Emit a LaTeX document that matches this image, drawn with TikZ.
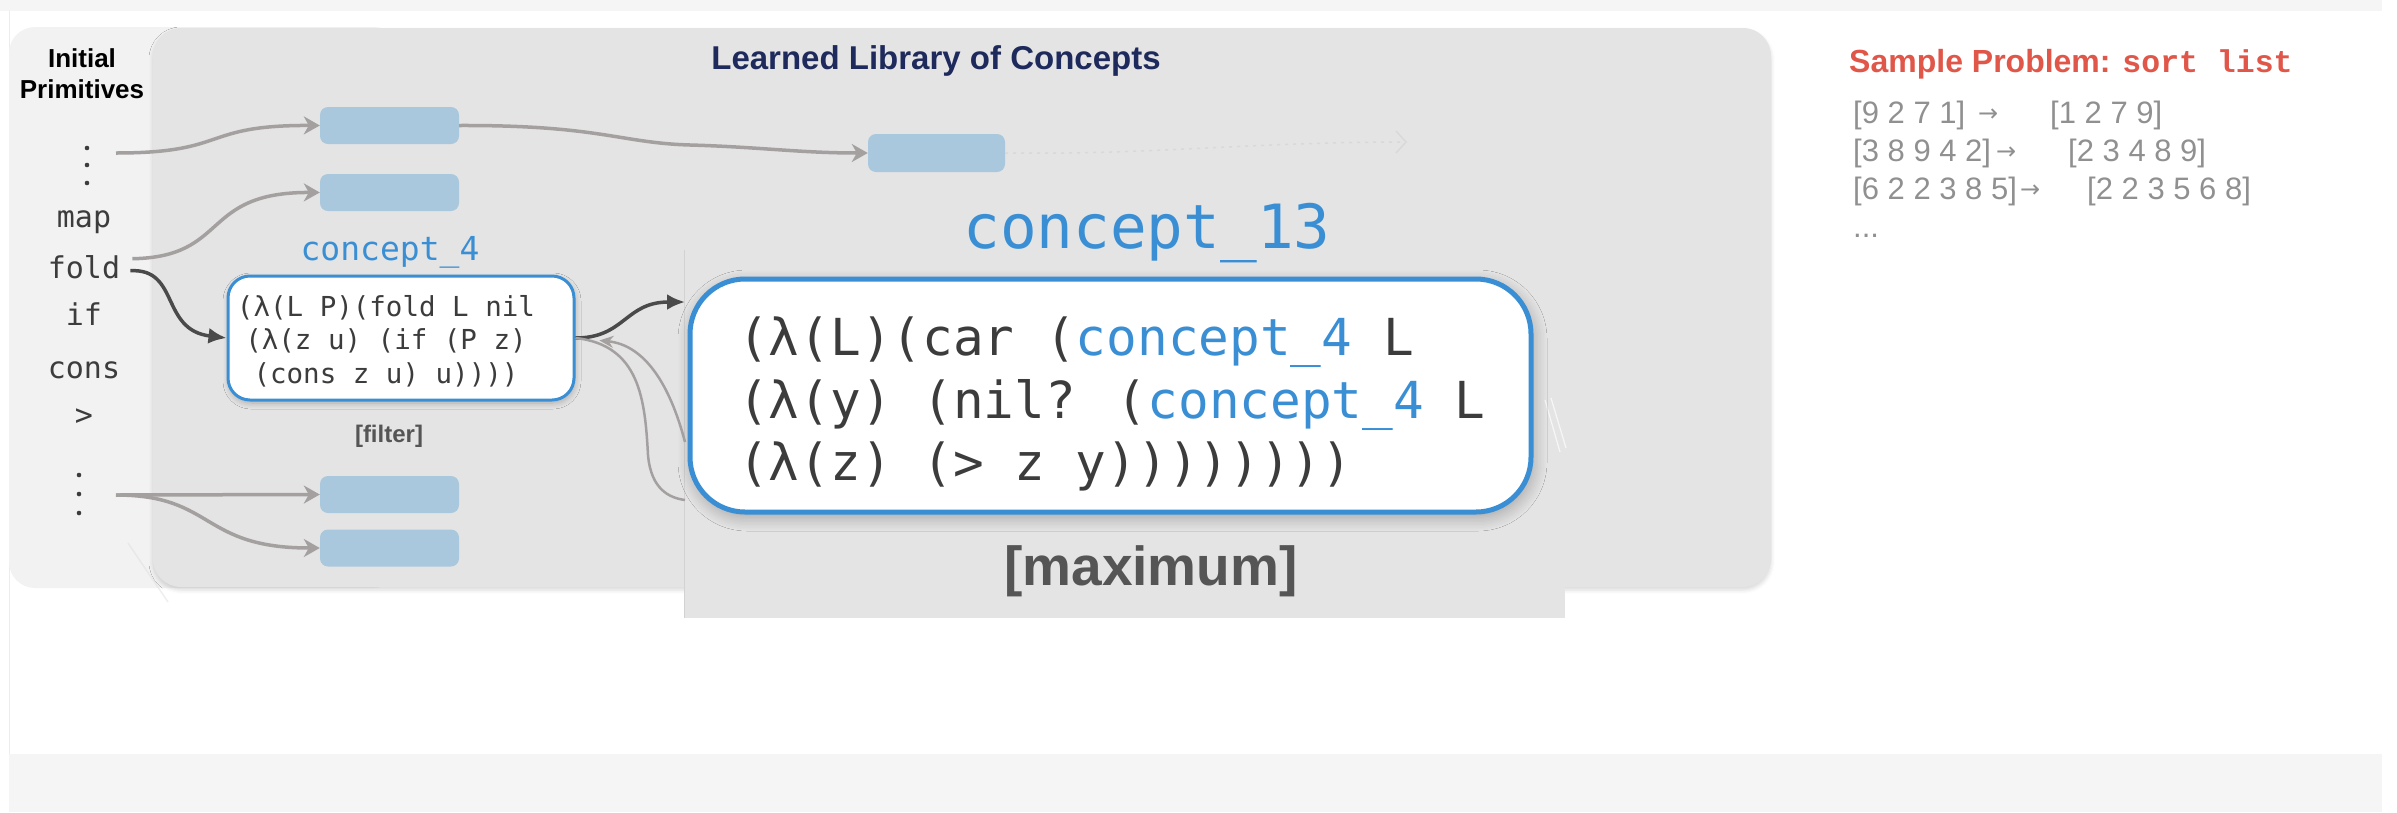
\documentclass[tikz,border=0pt]{standalone}
\usepackage{fontspec}
\usetikzlibrary{arrows.meta,shadows.blur}
\newfontfamily\lsans{Liberation Sans}
\newfontfamily\dsans{DejaVu Sans}
\newfontfamily\dmono{DejaVu Sans Mono}
\newfontfamily\lmono{Liberation Mono}
\newcommand\fsz[1]{\fontsize{#1}{#1}\selectfont}
\definecolor{panelgray}{HTML}{E4E4E4}
\definecolor{leftgray}{HTML}{F2F2F2}
\definecolor{stripgray}{HTML}{F5F5F5}
\definecolor{cardedge}{HTML}{ECECEC}
\definecolor{slot}{HTML}{A9C8DD}
\definecolor{conceptblue}{HTML}{3A8FD4}
\definecolor{linkgray}{HTML}{A5A0A0}
\definecolor{linkdark}{HTML}{4A4A4A}
\definecolor{fadeline}{HTML}{D2D2D2}
\definecolor{fadearrow}{HTML}{D9D9D9}
\definecolor{codegray}{HTML}{3C3C3C}
\definecolor{navy}{HTML}{1E2A5C}
\definecolor{probred}{HTML}{E0574A}
\definecolor{examplegray}{HTML}{909090}
\definecolor{labelgray}{HTML}{555555}
\begin{document}
\begin{tikzpicture}[x=1pt,y=-1pt,
  slotbox/.style={fill=slot, rounded corners=8pt, minimum width=139pt,
    minimum height=37pt, inner sep=0pt},
  prim/.style={font=\dmono\fsz{30}, text=codegray, inner sep=2pt, anchor=base},
  c4code/.style={font=\dmono\fsz{27.5}, text=codegray, anchor=base, inner sep=0pt},
  c13code/.style={font=\dmono\fsz{51}, text=codegray, anchor=base west, inner sep=0pt},
  graylink/.style={draw=linkgray, line width=3.5pt,
    -{Stealth[length=16pt,width=18pt,inset=5pt]}},
  graytrail/.style={draw=linkgray, line width=2.5pt},
  darklink/.style={draw=linkdark, line width=3.5pt, -{Latex[length=18pt,width=16pt]}},
  example/.style={font=\lsans\fsz{31}, text=examplegray, anchor=base west, inner sep=0pt},
  exarrow/.style={font=\dsans\fsz{24}, text=examplegray, anchor=base west, inner sep=0pt},
  sectionlabel/.style={font=\lsans\bfseries, text=labelgray, anchor=base, inner sep=0pt}]
\useasboundingbox (0,0) rectangle (2397,812);

% page strips and card edge
\fill[stripgray] (0,0) rectangle (2382,11);
\fill[stripgray] (9,754) rectangle (2382,812);
\draw[cardedge, line width=1pt] (9.5,11) -- (9.5,754);

% panels
\fill[leftgray, rounded corners=26pt] (9,27) rectangle (400,588);
\fill[panelgray, rounded corners=28pt,
  blur shadow={shadow xshift=0pt, shadow yshift=-3pt, shadow blur radius=4pt,
    shadow opacity=15}] (153,28) rectangle (1771,587);
% magnified window
\fill[panelgray] (685,250) rectangle (1565,618);
\draw[fadeline, line width=1pt] (684.5,250) -- (684.5,618);

% faint leftover strokes
\draw[white!75!gray, line width=1.5pt, opacity=0.5] (128,543) -- (168,602);
\draw[white, line width=1.2pt, opacity=0.7] (1545,400) -- (1560,452);
\draw[white, line width=1.2pt, opacity=0.7] (1551,398) -- (1566,448);

% headings
\node[font=\lsans\bfseries\fsz{26}, anchor=base, inner sep=0pt] (initT) at (82,67) {Initial};
\node[font=\lsans\bfseries\fsz{26}, anchor=base, inner sep=0pt] (primT) at (82,98) {Primitives};
\node[font=\lsans\bfseries\fsz{33}, text=navy, anchor=base, inner sep=0pt] (libT) at (936,69) {Learned Library of Concepts};

% primitives
\foreach \yy in {148,165,183} \fill[codegray] (87,\yy) circle (2.3pt);
\foreach \yy in {475,494,513} \fill[codegray] (79,\yy) circle (2.3pt);
\node[prim] (map) at (84,227) {map};
\node[prim] (fold) at (84,278) {fold};
\node[prim] (if) at (84,325) {if};
\node[prim] (cons) at (84,378) {cons};
\node[prim] (gt) at (84,425) {>};
\coordinate (dotsTop) at (116,153);
\coordinate (dotsBot) at (116,495);

% library slots
\node[slotbox] (A) at (389.5,125.5) {};
\node[slotbox] (B) at (389.5,192.5) {};
\node[slotbox] (C) at (389.5,494.5) {};
\node[slotbox] (D) at (389.5,548) {};
\node[slotbox, minimum width=137pt, minimum height=38pt] (E) at (936.5,153) {};

% concept_4
\node[font=\dmono\fsz{33}, text=conceptblue, anchor=base, inner sep=0pt] (c4name) at (390,260) {concept\_4};
\node[draw=conceptblue, line width=3pt, fill=white, rounded corners=22pt,
  minimum width=346pt, minimum height=124pt,
  blur shadow={shadow xshift=1pt, shadow yshift=-3pt, shadow blur radius=6pt,
    shadow opacity=25, shadow blur steps=8}] (c4) at (401,338) {};
\node[c4code] (c4l1) at (386,316) {(λ(L P)(fold L nil};
\node[c4code] (c4l2) at (386,349.5) {(λ(z u) (if (P z)};
\node[c4code] (c4l3) at (386,383) {(cons z u) u))))};
\node[sectionlabel, font=\lsans\bfseries\fsz{24}] (filterT) at (389,442) {[filter]};

% concept_13
\node[font=\dmono\fsz{61}, text=conceptblue, anchor=base, inner sep=0pt] (c13name) at (1147,248) {concept\_13};
\node[draw=conceptblue, line width=5pt, fill=white, rounded corners=55pt,
  minimum width=841pt, minimum height=233pt,
  blur shadow={shadow xshift=2pt, shadow yshift=-5pt, shadow blur radius=14pt,
    shadow opacity=30, shadow blur steps=10}] (c13) at (1110.5,395.5) {};
\node[c13code] (c13l1) at (738,355) {(λ(L)(car (\textcolor{conceptblue}{concept\_4} L};
\node[c13code] (c13l2) at (738,418) {(λ(y) (nil? (\textcolor{conceptblue}{concept\_4} L};
\node[c13code] (c13l3) at (738,480) {(λ(z) (> z y))))))))};
\node[sectionlabel, font=\lsans\bfseries\fsz{55}] (maxT) at (1151,585) {[maximum]};

\coordinate (c13in) at (685,302);
\coordinate (c13outA) at (685,442);
\coordinate (c13outB) at (685,500);
\coordinate (fadeEnd) at (1407,142);

% connectors
\draw[graylink] (dotsTop) .. controls (230,153) and (200,125) .. (A.west);
\draw[graylink] (A.east) .. controls (600,125) and (620,143) .. (690,145)
  .. controls (760,147) and (800,153) .. (E.west);
\draw[graylink] ([xshift=10pt,yshift=8pt]fold.east) .. controls (230,257) and (200,192) .. (B.west);
\draw[darklink] ([xshift=8pt,yshift=-4pt]fold.east) .. controls (180,268) and (160,330) .. (c4.west);
\draw[darklink] (c4.east) .. controls (625,338) and (625,302) .. (c13in);
\draw[graytrail, -{Stealth[length=14pt,width=12pt]}, shorten >=24pt]
  (c13outA) .. controls (670,385) and (645,345) .. (c4.east);
\draw[graytrail] (c4.east) .. controls (640,345) and (645,400) .. (648,455)
  .. controls (651,490) and (670,498) .. (c13outB);
\draw[graylink] (dotsBot) -- (C.west);
\draw[graylink] (dotsBot) .. controls (215,495) and (200,548) .. (D.west);
\draw[fadearrow, dash pattern=on 3pt off 5pt, line width=1.5pt,
  -{Straight Barb[length=10pt,width=22pt]}]
  (E.east) .. controls (1150,155) and (1250,142) .. (fadeEnd);

% sample problem
\node[font=\lsans\bfseries\fsz{32}, text=probred, anchor=base west, inner sep=0pt] (probT) at (1849,72)
  {Sample Problem: {\lmono\fsz{31.5}sort list}};
\node[example] (in1) at (1853,123) {[9 2 7 1]};
\node[exarrow] (ar1) at (1978,121) {→};
\node[example] (out1) at (2050,123) {[1 2 7 9]};
\node[example] (in2) at (1853,161) {[3 8 9 4 2]};
\node[exarrow] (ar2) at (1996,159) {→};
\node[example] (out2) at (2068,161) {[2 3 4 8 9]};
\node[example] (in3) at (1853,199) {[6 2 2 3 8 5]};
\node[exarrow] (ar3) at (2020,197) {→};
\node[example] (out3) at (2087,199) {[2 2 3 5 6 8]};
\node[example] (more) at (1853,237) {...};
\end{tikzpicture}
\end{document}
